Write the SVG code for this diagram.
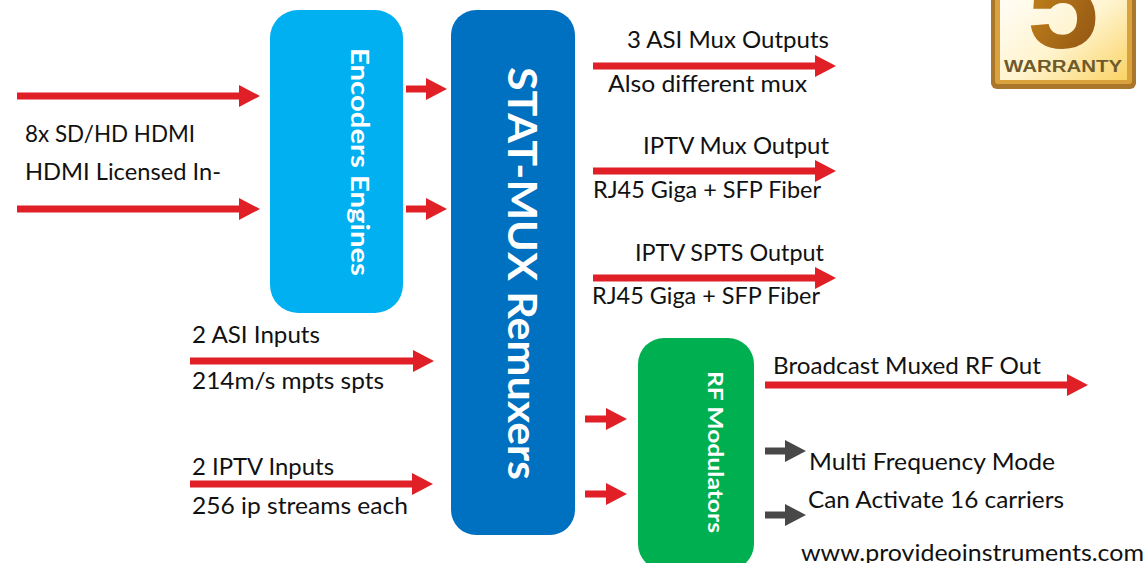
<svg xmlns="http://www.w3.org/2000/svg" width="1147" height="563" viewBox="0 0 1147 563">
<style>
text{font-family:"Lato","Carlito","Open Sans",sans-serif}
.l{font-size:24px;fill:#111}
.v{fill:#fff;font-weight:700}
.r{stroke:#e01f26;stroke-width:7;fill:none}
.g{stroke:#484848;stroke-width:7;fill:none}
</style>
<defs>
<marker id="ar" markerUnits="userSpaceOnUse" markerWidth="24" markerHeight="24" refX="1" refY="11" orient="auto"><path d="M1 0L22 11L1 22Z" fill="#e01f26"/></marker>
<marker id="ag" markerUnits="userSpaceOnUse" markerWidth="24" markerHeight="24" refX="1" refY="11" orient="auto"><path d="M1 0L22 11L1 22Z" fill="#484848"/></marker>
<linearGradient id="gold" x1="0" y1="0" x2="1" y2="1"><stop offset="0" stop-color="#ffffff"/><stop offset=".55" stop-color="#fff4cf"/><stop offset="1" stop-color="#fbd365"/></linearGradient>
<linearGradient id="five" x1="0" y1="0" x2="1" y2="1"><stop offset="0" stop-color="#d08f1c"/><stop offset="1" stop-color="#8a4f12"/></linearGradient>
<clipPath id="clip"><rect x="988" y="0" width="152" height="92"/></clipPath>
</defs>
<g id="connectors">
<line class="r" x1="17" y1="96" x2="239" y2="96" marker-end="url(#ar)"/>
<line class="r" x1="17" y1="209" x2="239" y2="209" marker-end="url(#ar)"/>
<line class="r" x1="406" y1="89" x2="426" y2="89" marker-end="url(#ar)"/>
<line class="r" x1="406" y1="209" x2="426" y2="209" marker-end="url(#ar)"/>
<line class="r" x1="190" y1="361" x2="413" y2="361" marker-end="url(#ar)"/>
<line class="r" x1="190" y1="484" x2="412" y2="484" marker-end="url(#ar)"/>
<line class="r" x1="593" y1="66" x2="815" y2="66" marker-end="url(#ar)"/>
<line class="r" x1="593" y1="171" x2="815" y2="171" marker-end="url(#ar)"/>
<line class="r" x1="593" y1="278" x2="815" y2="278" marker-end="url(#ar)"/>
<line class="r" x1="585" y1="419" x2="606" y2="419" marker-end="url(#ar)"/>
<line class="r" x1="585" y1="494" x2="606" y2="494" marker-end="url(#ar)"/>
<line class="r" x1="765" y1="385" x2="1067" y2="385" marker-end="url(#ar)"/>
<line class="g" x1="765" y1="451" x2="785" y2="451" marker-end="url(#ag)"/>
<line class="g" x1="765" y1="515" x2="785" y2="515" marker-end="url(#ag)"/>
</g>
<g id="encoders"><rect x="270" y="10" width="133" height="303" rx="28" fill="#00b0f0"/><text class="v" font-size="25" transform="translate(351 48) rotate(90)" textLength="228" lengthAdjust="spacingAndGlyphs">Encoders Engines</text></g>
<g id="statmux"><rect x="451" y="10" width="124" height="525" rx="25" fill="#0070c0"/><text class="v" font-size="41" transform="translate(508 67) rotate(90)" textLength="413" lengthAdjust="spacingAndGlyphs">STAT-MUX Remuxers</text></g>
<g id="rfmod"><rect x="638" y="338" width="116" height="232" rx="26" fill="#00b050"/><text class="v" font-size="20" transform="translate(708 371) rotate(90)" textLength="162" lengthAdjust="spacingAndGlyphs">RF Modulators</text></g>
<g id="warranty" clip-path="url(#clip)">
<rect x="991" y="-20" width="145" height="109" rx="6" fill="#a9762b"/>
<rect x="995" y="-20" width="137" height="104" rx="3" fill="#d9a23c"/>
<rect x="1000" y="-20" width="127" height="100" fill="url(#gold)"/>
<text x="1063" y="48" font-size="130" font-weight="700" text-anchor="middle" fill="url(#five)" style="font-family:'Liberation Sans',sans-serif">5</text>
<text x="1063" y="72" font-size="16" font-weight="700" text-anchor="middle" fill="#6f5a2c" textLength="118" lengthAdjust="spacingAndGlyphs" style="font-family:'Liberation Sans',sans-serif">WARRANTY</text>
</g>
<g id="labels">
<text class="l" x="25" y="142" textLength="170" lengthAdjust="spacingAndGlyphs">8x SD/HD HDMI</text>
<text class="l" x="25" y="180" textLength="196" lengthAdjust="spacingAndGlyphs">HDMI Licensed In-</text>
<text class="l" x="192" y="343" textLength="128" lengthAdjust="spacingAndGlyphs">2 ASI Inputs</text>
<text class="l" x="192" y="389" textLength="192" lengthAdjust="spacingAndGlyphs">214m/s mpts spts</text>
<text class="l" x="192" y="475" textLength="142" lengthAdjust="spacingAndGlyphs">2 IPTV Inputs</text>
<text class="l" x="192" y="514" textLength="216" lengthAdjust="spacingAndGlyphs">256 ip streams each</text>
<text class="l" x="627" y="48" textLength="202" lengthAdjust="spacingAndGlyphs">3 ASI Mux Outputs</text>
<text class="l" x="608" y="92" textLength="199" lengthAdjust="spacingAndGlyphs">Also different mux</text>
<text class="l" x="643" y="154" textLength="186" lengthAdjust="spacingAndGlyphs">IPTV Mux Output</text>
<text class="l" x="593" y="198" textLength="228" lengthAdjust="spacingAndGlyphs">RJ45 Giga + SFP Fiber</text>
<text class="l" x="635" y="261" textLength="189" lengthAdjust="spacingAndGlyphs">IPTV SPTS Output</text>
<text class="l" x="592" y="304" textLength="228" lengthAdjust="spacingAndGlyphs">RJ45 Giga + SFP Fiber</text>
<text class="l" x="773" y="374" textLength="268" lengthAdjust="spacingAndGlyphs">Broadcast Muxed RF Out</text>
<text class="l" x="809" y="470" textLength="246" lengthAdjust="spacingAndGlyphs">Multi Frequency Mode</text>
<text class="l" x="808" y="508" textLength="256" lengthAdjust="spacingAndGlyphs">Can Activate 16 carriers</text>
<text class="l" x="801" y="561" textLength="343" lengthAdjust="spacingAndGlyphs">www.provideoinstruments.com</text>
</g>
</svg>
